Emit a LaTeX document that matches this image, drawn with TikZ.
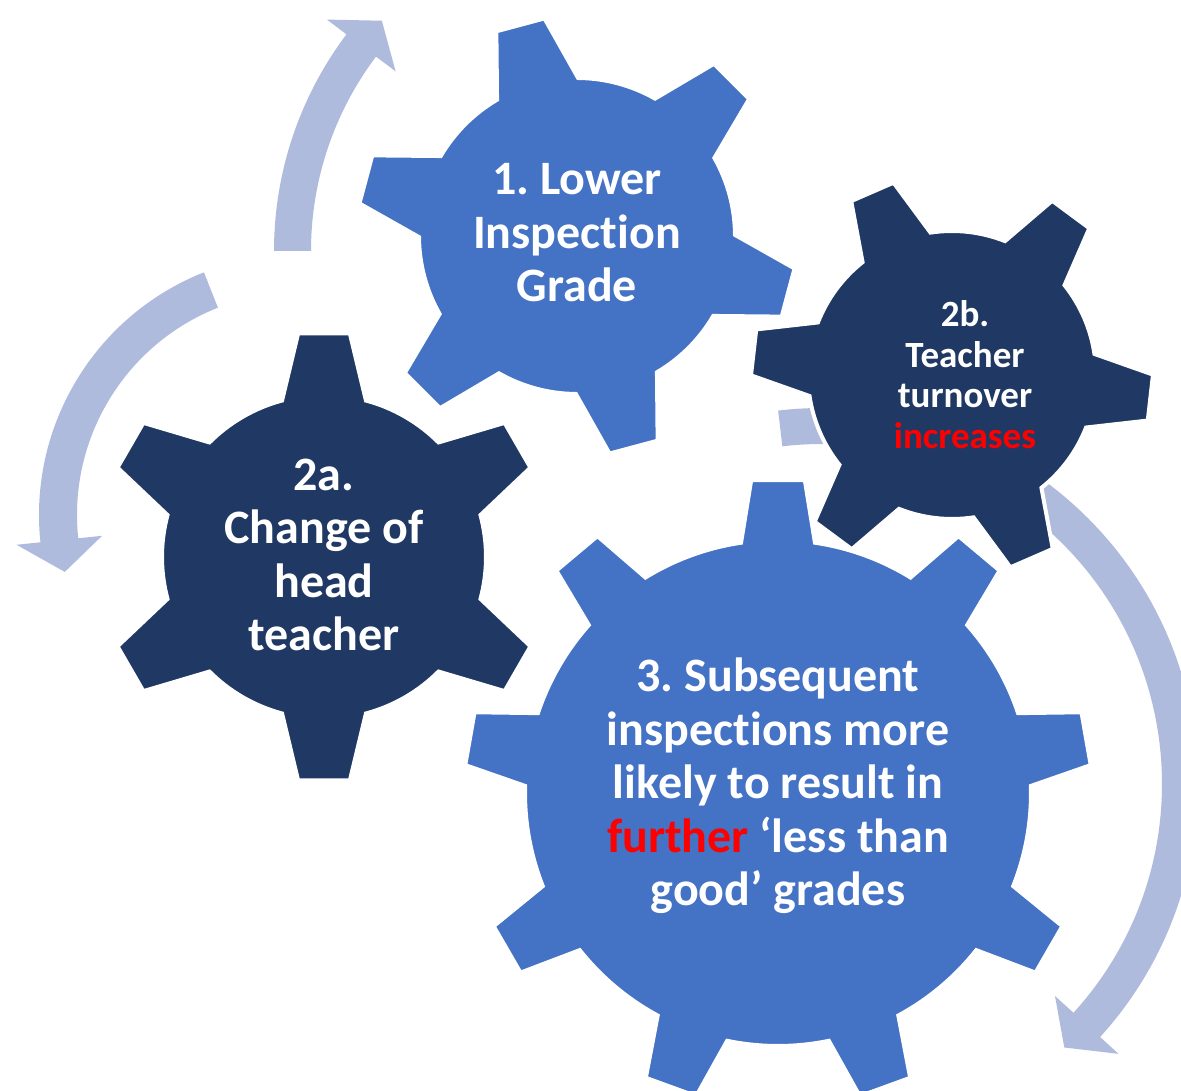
\documentclass[tikz,border=0pt]{standalone}
\usepackage{fontspec}
\setmainfont{Carlito}[RawFeature={-liga}]
\usetikzlibrary{calc}

\definecolor{gearlight}{HTML}{4472C4}
\definecolor{geardark}{HTML}{203864}
\definecolor{loopcol}{RGB}{174,187,221}
\definecolor{hot}{HTML}{FF0000}

% Gear outline: #1 style, #2 centre, #3 number of teeth, #4 angle of first tooth,
% #5 root radius, #6 tip radius, #7 root half-angle, #8 tip half-angle
\newcommand{\gearfill}[8]{%
  \begin{scope}[shift={#2}]
    \path[#1] ({#4-#7}:#5)
      \foreach \k in {1,...,#3}{
        -- ({#4+(\k-1)*360/#3-#8}:#6)
        -- ({#4+(\k-1)*360/#3+#8}:#6)
        -- ({#4+(\k-1)*360/#3+#7}:#5)
        arc[start angle={#4+(\k-1)*360/#3+#7}, end angle={#4+\k*360/#3-#7}, radius=#5]
      } -- cycle;
  \end{scope}}

% Curved band arrow: #1 centre x, #2 centre y, #3 inner radius, #4 outer radius,
% #5 tail angle, #6 head base angle, #7 tip angle, #8 inner barb radius, #9 outer barb radius
\newcommand{\bandarrow}[9]{%
  \begin{scope}[shift={(#1,#2)}]
    \fill[loopcol] (#5:#4) arc[start angle=#5, end angle=#6, radius=#4]
      -- (#6:#9) -- (#7:{(#3+#4)/2}) -- (#6:#8) -- (#6:#3)
      arc[start angle=#6, end angle=#5, radius=#3] -- cycle;
  \end{scope}}

\tikzset{
  lightgear/.style={fill=gearlight, draw=white, line width=4pt},
  darkgear/.style={fill=geardark, draw=white, line width=4pt},
  geartext/.style={text=white, align=center, inner sep=0pt,
    font=\frenchspacing\bfseries\fontsize{48}{53.5}\selectfont},
  smalltext/.style={text=white, align=center, inner sep=0pt,
    font=\frenchspacing\bfseries\fontsize{37}{40.5}\selectfont}
}

\begin{document}
\begin{tikzpicture}[x=1pt,y=1pt]
\useasboundingbox (0,0) rectangle (1181,1090);
\clip (0,0) rectangle (1181,1090);

% circular arrows behind the gears
\bandarrow{634}{839}{323}{360}{180}{143}{137.6}{298.5}{384.5}
\bandarrow{300}{575}{223}{261}{111.6}{186}{193.6}{199}{285}
\bandarrow{822}{306}{340}{376}{96.7}{-42.3}{-47.4}{315}{401}

% gears
\gearfill{lightgear}{(577,854)}{6}{105}{158}{220}{15.4}{6.5}
\gearfill{darkgear}{(324,533)}{6}{30}{162}{225}{15.0}{6.6}
\gearfill{lightgear}{(778,297)}{9}{10}{253}{314}{8.4}{4.9}
\gearfill{darkgear}{(952,715)}{6}{-6.5}{144}{201}{14.9}{6.6}

% labels
\node[geartext] (g1) at (577,852.2)
  {\strut 1. Lower\\\strut Inspection\\\strut Grade};
\node[geartext] (g2a) at (324,530.1)
  {\strut 2a.\\\strut Change of\\\strut head\\\strut teacher};
\node[smalltext] (g2b) at (965,710.6)
  {\strut 2b.\\\strut Teacher\\\strut turnover\\\strut\textcolor{hot}{increases}};
\node[geartext] (g3) at (778,301.7)
  {\strut 3. Subsequent\\\strut inspections more\\\strut likely to result in\\
   \strut\textcolor{hot}{further} ‘less than\\\strut good’ grades};
\end{tikzpicture}
\end{document}
